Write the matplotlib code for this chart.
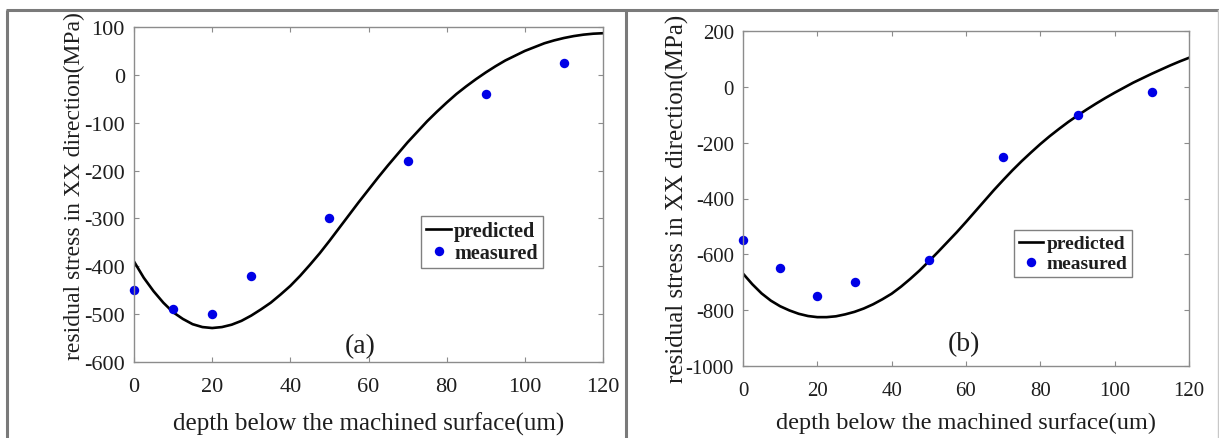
import numpy as np
import matplotlib
matplotlib.use("Agg")
import matplotlib.pyplot as plt
from matplotlib.lines import Line2D

plt.rcParams['font.family'] = ['Liberation Serif', 'DejaVu Serif']
plt.rcParams['axes.unicode_minus'] = False

# predicted curves (every 2.5 um)
depth_curve = [0, 2.5, 5, 7.5, 10, 12.5, 15, 17.5, 20, 22.5, 25, 27.5, 30, 32.5, 35, 37.5,
               40, 42.5, 45, 47.5, 50, 52.5, 55, 57.5, 60, 62.5, 65, 67.5, 70, 72.5, 75,
               77.5, 80, 82.5, 85, 87.5, 90, 92.5, 95, 97.5, 100, 102.5, 105, 107.5, 110,
               112.5, 115, 117.5, 120]
pred_a = [-390, -424, -452, -476, -496, -510, -521, -527, -529, -527, -522, -514, -503,
          -490, -476, -459, -441, -420, -397, -373, -347, -320, -293, -266, -240, -214,
          -189, -165, -141, -119, -97, -77, -58, -40, -24, -9, 5, 18, 30, 40, 50, 58, 66,
          72, 77, 81, 84, 86, 87]
pred_b = [-669, -707, -740, -766, -786, -801, -813, -821, -825, -825, -822, -815, -806,
          -794, -779, -761, -741, -716, -688, -658, -625, -591, -556, -521, -484, -446,
          -408, -370, -334, -299, -266, -235, -205, -177, -151, -126, -103, -81, -60, -40,
          -21, -3, 15, 31, 47, 62, 77, 91, 104]

# measured points
depth_meas = [0, 10, 20, 30, 50, 70, 90, 110]
meas_a = [-450, -490, -500, -420, -300, -180, -40, 25]
meas_b = [-550, -650, -750, -700, -620, -250, -100, -20]

xticks = [0, 20, 40, 60, 80, 100, 120]
yticks_a = [-600, -500, -400, -300, -200, -100, 0, 100]
yticks_b = [-1000, -800, -600, -400, -200, 0, 200]

xlabel = "depth below the machined surface(um)"
ylabel = "residual stress in XX direction(MPa)"

W, H = 1219, 439
fig = plt.figure(figsize=(W / 100, H / 100), dpi=100)
fig.patch.set_facecolor('white')

spine_col = '#8c8c8c'
txt_col = '#1e1e1e'


def style_axes(ax, tick_size):
    for s in ax.spines.values():
        s.set_color(spine_col)
        s.set_linewidth(1.0)
    ax.tick_params(direction='in', top=True, right=True, length=3.5, width=0.8,
                   color=spine_col, labelsize=tick_size, labelcolor=txt_col)
    ax.tick_params(axis='x', pad=10.5)
    ax.tick_params(axis='y', pad=6.5)


def panel(rect, pred, meas, yticks, ylim, tick_size, lab_size, xl_size, ylab_xy, xlab_y,
          leg_xy, leg_size, tag, tag_xy):
    ax = fig.add_axes(rect)
    ax.plot(depth_curve, pred, color='black', lw=1.9, label='predicted')
    ax.plot(depth_meas, meas, 'o', color='#0000e6', markersize=6.8, markeredgewidth=0,
            label='measured', clip_on=False)
    ax.set_xlim(0, 120)
    ax.set_ylim(*ylim)
    ax.set_xticks(xticks)
    ax.set_yticks(yticks)
    style_axes(ax, tick_size)
    ax.set_xlabel(xlabel, fontsize=xl_size, color=txt_col)
    ax.xaxis.set_label_coords(0.5, xlab_y)
    ax.set_ylabel(ylabel, fontsize=lab_size, color=txt_col)
    ax.yaxis.set_label_coords(*ylab_xy)
    ax.yaxis.label.set_va('center')
    leg = ax.legend(loc='upper left', bbox_to_anchor=leg_xy, borderaxespad=0,
                    prop={'weight': 'bold', 'size': leg_size}, fancybox=False,
                    handlelength=1.25, handletextpad=0.15, borderpad=0.25,
                    labelspacing=0.12, framealpha=1, edgecolor='#808080')
    leg.get_frame().set_linewidth(1.0)
    for t in leg.get_texts():
        t.set_color(txt_col)
    ax.text(tag_xy[0], tag_xy[1], tag, fontsize=20, ha='center', va='center', color=txt_col)
    return ax


panel([134 / W, (H - 363) / H, 469 / W, 335 / H], pred_a, meas_a, yticks_a, (-600, 100),
      16, 17, 18, (-0.126, 0.527), -0.149, (0.612, 0.436), 14.5, '(a)', (58, -566))
panel([743 / W, (H - 367) / H, 446 / W, 335 / H], pred_b, meas_b, yticks_b, (-1000, 200),
      15, 18, 17.5, (-0.148, 0.501), -0.137, (0.608, 0.406), 14, '(b)', (59.5, -921))

# grey frame around the two panels
frame = dict(color='#7a7a7a', lw=2.2, transform=fig.transFigure, solid_capstyle='butt')
top_y = 1 - 10.5 / H
fig.add_artist(Line2D([5.5 / W, 1], [top_y, top_y], **frame))
fig.add_artist(Line2D([7 / W, 7 / W], [0, top_y], **frame))
fig.add_artist(Line2D([625.8 / W, 625.8 / W], [0, top_y], **frame))
fig.add_artist(Line2D([1217.5 / W, 1217.5 / W], [0, top_y], color='#c8c8c8', lw=1.0,
                      transform=fig.transFigure))

fig.savefig("out.png", dpi=100, facecolor='white')
